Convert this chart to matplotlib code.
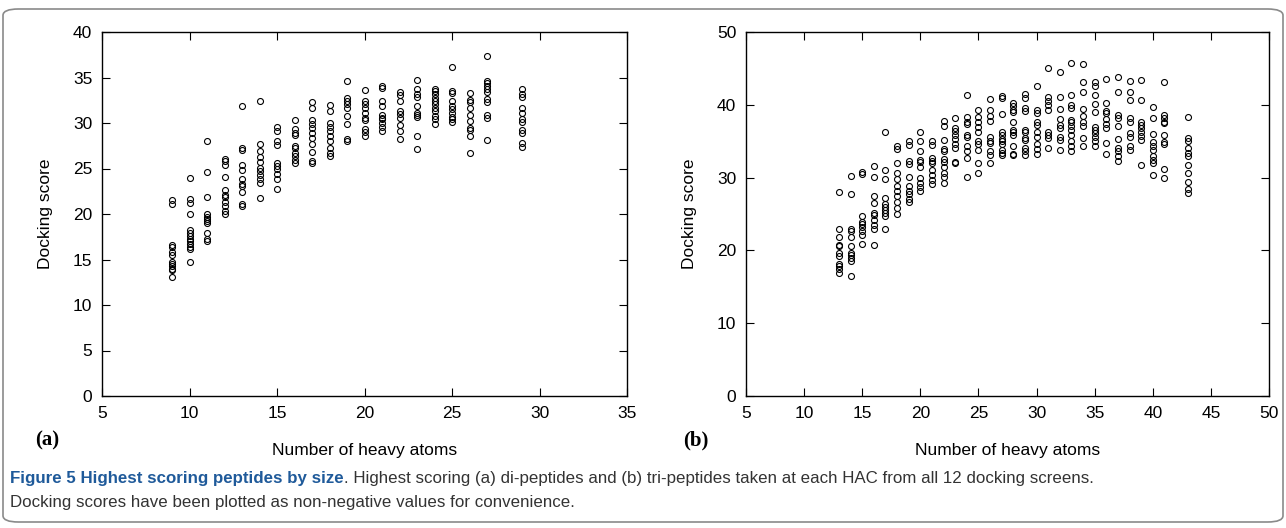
import matplotlib.pyplot as plt
from matplotlib.patches import FancyBboxPatch

# Panel (a): di-peptides, docking scores per heavy atom count
hac_a = [9, 10, 11, 12, 13, 14, 15, 16, 17, 18, 19, 20, 21, 22, 23, 24, 25, 26, 27, 29]
scores_a = [
    [21.5, 21.1, 16.6, 16.4, 15.8, 15.5, 14.7, 14.5, 14.3, 14.0, 13.8, 13.1],
    [24.0, 21.7, 21.2, 20.0, 18.2, 17.9, 17.6, 17.3, 17.0, 16.7, 16.4, 16.1, 14.7],
    [28.0, 24.6, 21.9, 20.0, 19.7, 19.4, 19.2, 19.0, 17.9, 17.2, 17.0],
    [26.0, 25.8, 25.4, 24.1, 22.6, 22.1, 21.9, 21.3, 20.9, 20.3, 20.0],
    [31.9, 27.2, 27.0, 25.4, 24.8, 23.8, 23.3, 23.1, 22.4, 21.1, 20.9],
    [32.4, 27.7, 26.9, 26.3, 25.7, 25.1, 24.7, 24.3, 23.8, 23.4, 21.8],
    [29.6, 29.1, 28.0, 27.6, 25.6, 25.3, 25.0, 24.4, 23.9, 22.7],
    [30.3, 29.3, 28.9, 28.7, 27.5, 27.2, 26.7, 26.4, 25.9, 25.6],
    [32.3, 31.7, 30.3, 29.9, 29.4, 28.9, 28.4, 27.7, 26.8, 25.8, 25.6],
    [32.0, 31.3, 30.0, 29.6, 29.1, 28.6, 28.0, 27.2, 26.7, 26.4],
    [34.6, 32.7, 32.4, 32.1, 31.7, 30.8, 29.9, 28.2, 28.0],
    [33.6, 32.4, 32.1, 31.6, 31.1, 30.6, 30.3, 29.3, 29.0, 28.6],
    [34.1, 33.9, 32.4, 31.9, 30.9, 30.6, 30.4, 30.0, 29.6, 29.1],
    [33.4, 33.1, 32.4, 31.3, 31.0, 30.6, 29.8, 29.1, 28.2],
    [34.7, 33.7, 33.2, 32.9, 31.9, 31.1, 30.9, 30.7, 28.6, 27.1],
    [33.7, 33.5, 33.2, 32.8, 32.4, 32.1, 31.6, 31.3, 30.8, 30.4, 29.9],
    [36.1, 33.5, 33.3, 32.4, 31.9, 31.5, 31.1, 30.7, 30.4, 30.1],
    [33.3, 32.5, 32.3, 31.6, 30.9, 30.2, 29.5, 29.2, 28.6, 26.7],
    [37.4, 34.6, 34.4, 34.1, 33.7, 33.4, 32.6, 32.3, 30.9, 30.6, 28.1],
    [33.7, 33.2, 32.9, 31.7, 31.1, 30.4, 30.1, 29.2, 28.9, 27.8, 27.4],
]

# Panel (b): tri-peptides
hac_b = [13, 14, 15, 16, 17, 18, 19, 20, 21, 22, 23, 24, 25, 26, 27, 28, 29, 30,
         31, 32, 33, 34, 35, 36, 37, 38, 39, 40, 41, 43]
scores_b = [
    [28.0, 23.0, 21.9, 20.8, 20.6, 19.6, 19.2, 18.2, 17.9, 17.4, 16.9],
    [30.2, 27.8, 22.9, 22.6, 21.9, 20.6, 19.7, 19.4, 18.9, 18.6, 16.5],
    [30.8, 30.5, 24.7, 23.9, 23.6, 23.2, 22.6, 22.1, 20.9],
    [31.6, 30.1, 27.5, 26.5, 25.2, 24.9, 24.2, 23.5, 23.0, 20.8],
    [36.2, 31.0, 29.8, 27.2, 26.4, 26.0, 25.5, 25.1, 24.7, 22.9],
    [34.3, 33.9, 32.0, 30.7, 29.8, 28.9, 28.1, 27.5, 26.7, 25.8, 25.0],
    [35.0, 34.5, 32.3, 31.9, 30.1, 28.9, 28.2, 27.8, 27.0, 26.7],
    [36.2, 35.0, 33.6, 32.4, 32.1, 31.5, 29.9, 29.3, 28.7, 28.2],
    [35.0, 34.5, 32.7, 32.3, 32.0, 31.0, 30.4, 29.7, 29.1],
    [37.8, 37.1, 35.2, 33.9, 33.6, 32.5, 32.1, 31.5, 30.6, 30.1, 29.3],
    [38.2, 36.8, 36.4, 35.9, 35.3, 34.6, 34.0, 32.2, 32.0],
    [41.4, 38.3, 37.7, 37.4, 35.9, 35.6, 34.4, 33.6, 32.7, 30.1],
    [39.3, 38.3, 37.7, 37.0, 36.3, 35.0, 34.6, 33.8, 32.0, 30.6],
    [40.8, 39.3, 38.4, 37.8, 35.6, 35.0, 34.7, 33.6, 33.1, 32.0],
    [41.2, 40.9, 38.7, 36.2, 35.9, 35.3, 35.0, 34.6, 33.8, 33.4, 33.1],
    [40.3, 39.9, 39.3, 39.0, 37.6, 36.6, 36.3, 35.9, 34.3, 33.3, 33.1],
    [41.5, 40.9, 39.5, 39.2, 36.6, 36.2, 35.5, 35.2, 34.0, 33.6, 33.1],
    [42.6, 39.3, 38.9, 37.6, 37.2, 36.2, 35.6, 34.6, 33.9, 33.3],
    [45.0, 41.1, 40.5, 40.0, 39.3, 36.3, 35.9, 35.4, 34.0],
    [44.5, 41.1, 39.4, 38.1, 37.2, 36.8, 35.6, 35.2, 33.8],
    [45.7, 41.4, 40.0, 39.5, 37.9, 37.6, 37.1, 36.6, 35.9, 35.0, 34.3, 33.7],
    [45.6, 43.1, 41.8, 39.4, 38.5, 37.6, 37.1, 35.5, 34.4],
    [43.2, 42.6, 41.3, 40.1, 39.0, 37.0, 36.6, 36.1, 35.6, 35.0, 34.4],
    [43.6, 40.2, 39.2, 38.9, 38.0, 37.4, 36.8, 34.8, 33.3],
    [43.8, 41.7, 38.6, 38.2, 37.1, 35.3, 34.0, 33.6, 32.9, 32.3],
    [43.3, 41.7, 40.7, 38.2, 37.7, 36.1, 35.6, 34.3, 33.8],
    [43.4, 40.6, 37.6, 37.2, 36.8, 36.3, 35.7, 35.2, 31.7],
    [39.7, 38.2, 36.0, 34.9, 34.3, 33.8, 33.0, 32.4, 32.0, 30.4],
    [43.2, 38.6, 38.2, 37.7, 37.5, 35.9, 34.9, 34.6, 31.2, 30.0],
    [38.3, 35.5, 35.0, 34.0, 33.4, 32.9, 31.7, 30.6, 29.4, 28.5, 27.9],
]

xticks_a = [5, 10, 15, 20, 25, 30, 35]
yticks_a = [0, 5, 10, 15, 20, 25, 30, 35, 40]
xticks_b = [5, 10, 15, 20, 25, 30, 35, 40, 45, 50]
yticks_b = [0, 10, 20, 30, 40, 50]

plt.rcParams['font.family'] = ['Liberation Sans', 'DejaVu Sans']

W, H = 1286, 528
fig = plt.figure(figsize=(W / 100, H / 100), dpi=100)

# rounded frame round the whole figure
frame = FancyBboxPatch((3 / W, 6 / H), 1 - 6 / W, 1 - 15 / H,
                       boxstyle="round,pad=0,rounding_size=0.012",
                       transform=fig.transFigure, fill=False,
                       edgecolor='#8a8a8a', linewidth=1.2)
fig.patches.append(frame)

ax_a = fig.add_axes([102 / W, 1 - 396 / H, 525 / W, 364 / H])
ax_b = fig.add_axes([746 / W, 1 - 396 / H, 523 / W, 364 / H])


def draw_panel(ax, hacs, scores, xticks, yticks):
    for h, vals in zip(hacs, scores):
        ax.plot([h] * len(vals), vals, 'o', mfc='none', mec='black',
                ms=4.3, mew=0.8, linestyle='none')
    ax.set_xlim(xticks[0], xticks[-1])
    ax.set_ylim(yticks[0], yticks[-1])
    ax.set_xticks(xticks)
    ax.set_yticks(yticks)
    ax.tick_params(direction='in', top=True, right=True, length=6,
                   width=0.8, labelsize=12.5, pad=7)
    for s in ax.spines.values():
        s.set_linewidth(1.0)
    ax.set_xlabel("Number of heavy atoms", fontsize=12.5, labelpad=16)
    ax.set_ylabel("Docking score", fontsize=12.5, labelpad=14)


draw_panel(ax_a, hac_a, scores_a, xticks_a, yticks_a)
draw_panel(ax_b, hac_b, scores_b, xticks_b, yticks_b)

fig.text(35 / W, 1 - 440 / H, "(a)", fontsize=15, fontweight='bold',
         family='Liberation Serif', va='center', ha='left')
fig.text(683 / W, 1 - 440 / H, "(b)", fontsize=15, fontweight='bold',
         family='Liberation Serif', va='center', ha='left')

# caption with bold coloured title followed by plain text
fig.canvas.draw()
renderer = fig.canvas.get_renderer()
cap_font = ['Liberation Sans', 'DejaVu Sans']
cap_size = 12.2
t1 = fig.text(10 / W, 1 - 478 / H, "Figure 5 Highest scoring peptides by size",
              fontsize=cap_size, fontweight='bold', color='#1f5a9a',
              family=cap_font, va='center', ha='left')
bb = t1.get_window_extent(renderer)
fig.text(bb.x1 / W, 1 - 478 / H,
         ". Highest scoring (a) di-peptides and (b) tri-peptides taken at each HAC "
         "from all 12 docking screens.",
         fontsize=cap_size, color='#333333', family=cap_font, va='center', ha='left')
fig.text(10 / W, 1 - 503 / H,
         "Docking scores have been plotted as non-negative values for convenience.",
         fontsize=cap_size, color='#333333', family=cap_font, va='center', ha='left')

fig.savefig("out.png", dpi=100)
